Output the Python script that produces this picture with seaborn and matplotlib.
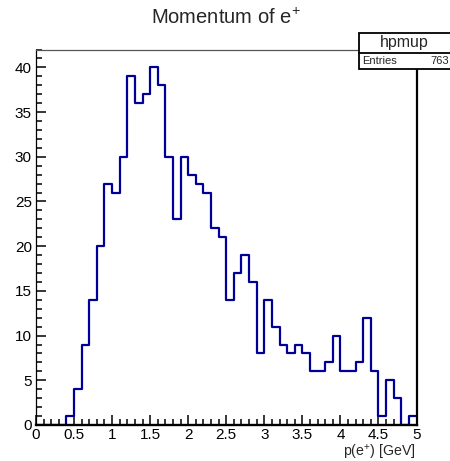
import numpy as np
import matplotlib
matplotlib.use("Agg")
import matplotlib.pyplot as plt
from matplotlib.patches import Rectangle
from matplotlib.ticker import MultipleLocator, FuncFormatter
import seaborn as sns

# bin edges 0..5 GeV, 0.1 GeV wide
bin_edges = [round(0.1 * i, 1) for i in range(51)]
counts = [0, 0, 0, 0, 1, 4, 9, 14, 20, 27,
          26, 30, 39, 36, 37, 40, 38, 30, 23, 30,
          28, 27, 26, 22, 21, 14, 17, 19, 16, 8,
          14, 11, 9, 8, 9, 8, 6, 6, 7, 10,
          6, 6, 7, 12, 6, 1, 5, 3, 0, 1]
bin_centers = [e + 0.05 for e in bin_edges[:-1]]

title = "Momentum of e$^{+}$"
xlabel = "p(e$^{+}$) [GeV]"
hist_name = "hpmup"
entries = 763

sns.set_style("ticks")
plt.rcParams["font.family"] = ["Liberation Sans", "DejaVu Sans"]
plt.rcParams["mathtext.fontset"] = "custom"
plt.rcParams["mathtext.rm"] = "Liberation Sans"

fig = plt.figure(figsize=(4.5, 4.61), dpi=100)
ax = fig.add_axes([0.08, 0.0781, 0.8456, 0.8145])

sns.histplot(x=bin_centers, weights=counts, bins=bin_edges, element="step",
             fill=False, color="#000099", linewidth=1.6, ax=ax)

ax.set_xlim(0, 5)
ax.set_ylim(0, 42)
ax.set_ylabel("")
ax.set_xlabel("")

ax.xaxis.set_major_locator(MultipleLocator(0.5))
ax.xaxis.set_minor_locator(MultipleLocator(0.1))
ax.yaxis.set_major_locator(MultipleLocator(5))
ax.yaxis.set_minor_locator(MultipleLocator(1))
ax.xaxis.set_major_formatter(FuncFormatter(lambda v, p: f"{v:g}"))
ax.tick_params(which="both", direction="in", top=False, right=False,
               labelsize=11, colors="black", pad=3)
ax.tick_params(axis="x", pad=2)
ax.tick_params(which="major", length=7, width=1.1)
ax.tick_params(which="minor", length=4, width=1.1)

for side in ["left", "top"]:
    ax.spines[side].set_linewidth(0.9)
    ax.spines[side].set_color("black")
ax.spines["top"].set_color("#555555")
ax.spines["bottom"].set_linewidth(1.7)
ax.spines["bottom"].set_color("black")
ax.spines["right"].set_linewidth(1.6)
ax.spines["right"].set_color("black")
for sp in ax.spines.values():
    sp.set_visible(True)
    sp.set_zorder(3)

fig.text(0.502, 0.961, title, ha="center", va="center", fontsize=14.5)
fig.text(415.5 / 450, 1 - 452 / 461, xlabel, ha="right", va="center", fontsize=10.2)

# stats box (clipped by the right edge like the original)
box_x0 = 359 / 450
y_top = 1 - 32.7 / 461
y_mid = 1 - 52.7 / 461
y_bot = 1 - 69.3 / 461
fig.add_artist(Rectangle((box_x0, y_bot), 0.25, y_top - y_bot,
                         transform=fig.transFigure, facecolor="white",
                         edgecolor="black", linewidth=1.3, zorder=5))
fig.add_artist(plt.Line2D([box_x0, 1.1], [y_mid, y_mid], transform=fig.transFigure,
                          color="black", linewidth=1.3, zorder=6))
fig.text(404 / 450, (y_top + y_mid) / 2, hist_name, ha="center", va="center",
         fontsize=11.5, zorder=7)
fig.text(362 / 450, (y_mid + y_bot) / 2, "Entries", ha="left", va="center",
         fontsize=8, zorder=7)
fig.text(449.5 / 450, (y_mid + y_bot) / 2, str(entries), ha="right", va="center",
         fontsize=8, zorder=7)

fig.savefig("out.png", dpi=100)
